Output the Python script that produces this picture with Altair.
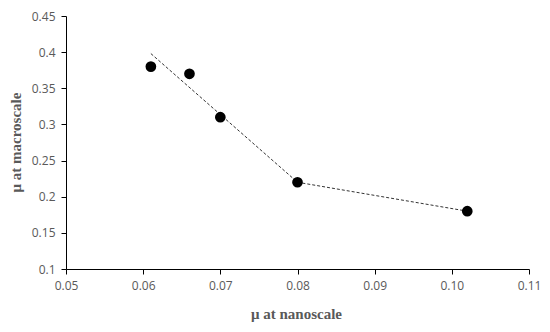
import altair as alt
import pandas as pd

nano = [0.061, 0.066, 0.070, 0.080, 0.102]
macro = [0.38, 0.37, 0.31, 0.22, 0.18]

trend_x = [0.061, 0.080, 0.102]
trend_y = [0.398, 0.220, 0.180]

x_ticks = [0.05, 0.06, 0.07, 0.08, 0.09, 0.10, 0.11]
y_ticks = [0.1, 0.15, 0.2, 0.25, 0.3, 0.35, 0.4, 0.45]

pts = pd.DataFrame({"x": nano, "y": macro})
trend = pd.DataFrame({"x": trend_x, "y": trend_y, "o": list(range(len(trend_x)))})

label_font = "Open Sans"
title_font = "Liberation Serif"
gray = "#595959"

x_scale = alt.Scale(domain=[0.05, 0.11], nice=False, zero=False)
y_scale = alt.Scale(domain=[0.1, 0.45], nice=False, zero=False)

x_axis = alt.Axis(
    title="μ at nanoscale", values=x_ticks, grid=False,
    labelExpr="datum.value >= 0.095 ? format(datum.value, '.2f') : format(datum.value, '.2')",
    labelFont=label_font, labelFontSize=12, labelColor=gray, labelPadding=6,
    labelOverlap=False, labelFlush=False,
    tickSize=5, tickColor="#000000", domainColor="#000000",
    titleFont=title_font, titleFontSize=15, titleFontWeight="bold", titleColor=gray,
    titleX=230, titleY=44, titleAnchor="middle", titleBaseline="middle",
)
y_axis = alt.Axis(
    title="μ  at macroscale", values=y_ticks, grid=False,
    labelExpr="format(datum.value, '.2~f')",
    labelFont=label_font, labelFontSize=12, labelColor=gray, labelPadding=6,
    labelOverlap=False, labelFlush=False,
    tickSize=5, tickColor="#000000", domainColor="#000000",
    titleFont=title_font, titleFontSize=15, titleFontWeight="bold", titleColor=gray,
    titleX=-51, titleY=126, titleAngle=-90, titleAnchor="middle", titleBaseline="middle",
)

X = alt.X("x:Q", scale=x_scale, axis=x_axis)
Y = alt.Y("y:Q", scale=y_scale, axis=y_axis)

line = alt.Chart(trend).mark_line(
    color="#333333", strokeDash=[3, 2], strokeWidth=1
).encode(x=X, y=Y, order="o:Q")

points = alt.Chart(pts).mark_circle(size=115, color="#000000", opacity=1).encode(
    x=X, y=Y
)

chart = alt.layer(line, points).properties(
    width=463, height=253,
    autosize=alt.AutoSizeParams(type="none"),
    padding={"left": 58, "top": 8, "right": 13, "bottom": 54},
).configure(background="#ffffff", view=alt.ViewConfig(stroke=None))

chart.save("out.html", embed_options={"renderer": "svg", "actions": False})
